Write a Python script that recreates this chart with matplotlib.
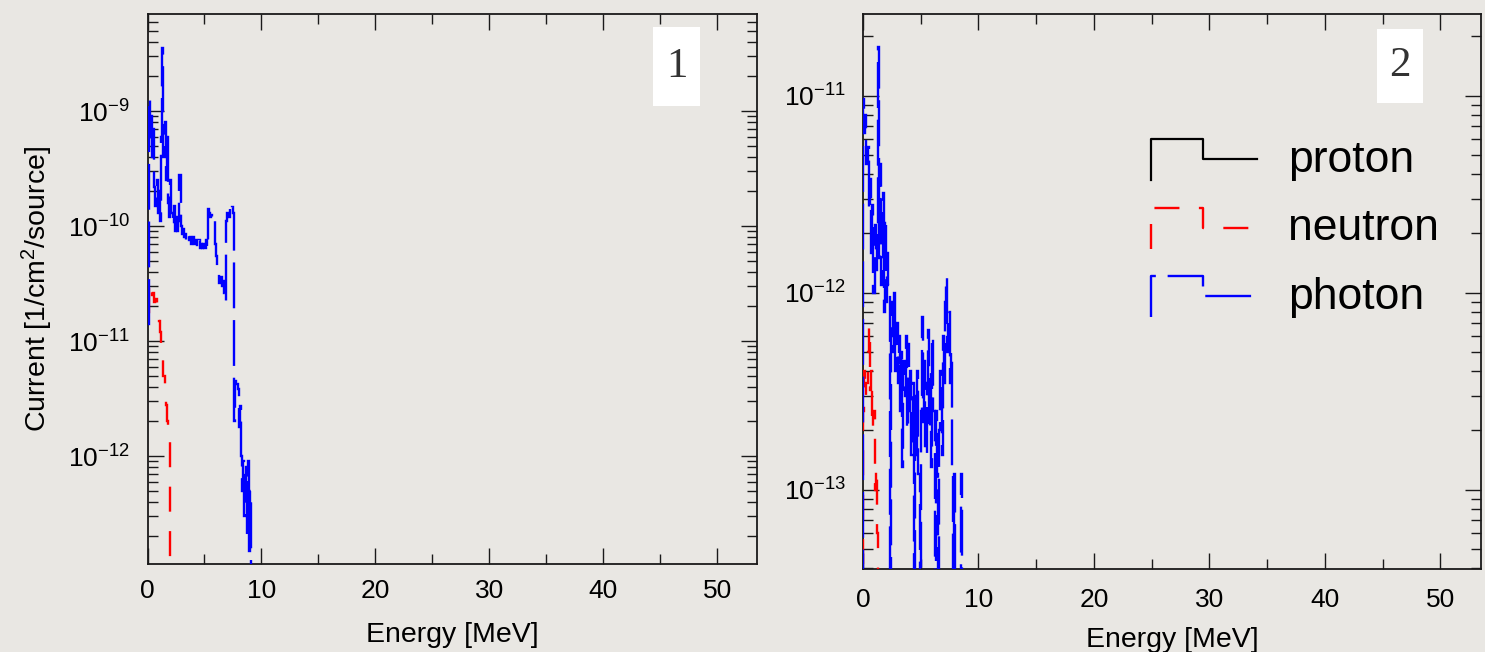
import numpy as np
import matplotlib
matplotlib.use("Agg")
import matplotlib.pyplot as plt
from matplotlib.lines import Line2D
from matplotlib.patches import Rectangle
from matplotlib.legend_handler import HandlerBase
from matplotlib.ticker import MultipleLocator, LogLocator, FixedLocator, NullFormatter

# ---------------------------------------------------------------- data
BIN_WIDTH = 0.1  # MeV, histogram bins start at 0

# panel 1: current per bin [1/cm^2/source]
photon_1 = [
    1.4e-11, 1.3e-9, 6.0e-10, 9.0e-10, 4.0e-10, 7.0e-10, 2.2e-10, 1.5e-10, 2.5e-10, 1.3e-10,
    2.0e-10, 1.1e-10, 6.0e-10, 3.5e-9, 4.0e-10, 8.0e-10, 2.5e-10, 6.0e-10, 1.6e-10, 1.2e-10,
    2.5e-10, 1.3e-10, 1.0e-10, 1.5e-10, 9.0e-11, 1.2e-10, 9.0e-11, 1.1e-10, 2.8e-10, 1.0e-10,
    8.5e-11, 9.5e-11, 8.0e-11, 8.5e-11, 7.5e-11, 8.5e-11, 7.5e-11, 8.0e-11, 7.0e-11, 7.5e-11,
    8.0e-11, 7.0e-11, 7.5e-11, 6.5e-11, 7.0e-11, 7.5e-11, 6.5e-11, 7.0e-11, 6.5e-11, 7.0e-11,
    6.5e-11, 7.5e-11, 6.5e-11, 1.4e-10, 1.3e-10, 1.2e-10, 1.25e-10, 1.1e-10, 1.15e-10, 7.0e-11,
    5.5e-11, 4.5e-11, 4.0e-11, 3.2e-11, 3.6e-11, 3.0e-11, 3.3e-11, 2.6e-11, 2.2e-11, 1.1e-10,
    1.3e-10, 1.2e-10, 1.4e-10, 1.3e-10, 1.45e-10, 1.3e-10, 2.0e-12, 4.5e-12, 4.2e-12, 3.8e-12,
    1.8e-12, 2.7e-12, 1.0e-12, 5.0e-13, 9.0e-13, 3.0e-13, 8.0e-13, 2.0e-13, 9.0e-13, 1.5e-13,
    5.0e-13, 1.0e-14,
]
neutron_1 = [
    1.8e-11, 3.0e-11, 2.8e-11, 3.0e-11, 2.5e-11, 2.6e-11, 2.2e-11, 2.3e-11, 1.9e-11, 1.8e-11,
    1.5e-11, 1.2e-11, 8.5e-12, 7.0e-12, 5.0e-12, 4.2e-12, 2.8e-12, 2.0e-12, 1.6e-12, 1.4e-12,
    1.0e-14,
]

# panel 2
photon_2 = [
    9.6e-12, 6.5e-12, 8.0e-12, 4.5e-12, 5.5e-12, 2.6e-12, 3.8e-12, 1.6e-12, 2.8e-12, 1.0e-12,
    2.2e-12, 1.3e-12, 2.0e-12, 1.76e-11, 1.5e-12, 4.5e-12, 1.1e-12, 3.2e-12, 8.0e-13, 2.4e-12,
    9.0e-13, 1.6e-12, 1.1e-12, 3.0e-14, 6.0e-13, 9.0e-13, 5.0e-13, 1.0e-12, 4.0e-13, 7.0e-13,
    3.5e-13, 6.0e-13, 2.5e-13, 5.0e-13, 1.3e-13, 4.5e-13, 3.0e-13, 6.0e-13, 2.0e-13, 5.5e-13,
    2.5e-13, 4.0e-13, 1.5e-13, 3.5e-13, 3.0e-14, 3.0e-13, 1.5e-13, 4.0e-13, 1.2e-13, 3.0e-14,
    2.5e-13, 7.5e-13, 2.2e-13, 4.5e-13, 1.5e-13, 3.5e-13, 6.5e-13, 2.0e-13, 4.0e-13, 1.3e-13,
    6.0e-13, 2.5e-13, 3.0e-14, 2.5e-13, 1.2e-13, 3.0e-14, 2.0e-13, 4.0e-13, 1.5e-13, 6.0e-13,
    3.5e-13, 9.0e-13, 1.2e-12, 5.0e-13, 8.0e-13, 3.5e-13, 5.0e-13, 1.2e-13, 3.0e-14, 1.2e-13,
    3.0e-14, 3.0e-14, 3.0e-14, 3.0e-14, 3.0e-14, 1.2e-13, 3.0e-14,
]
neutron_2 = [
    2.5e-13, 4.0e-13, 3.0e-13, 3.5e-13, 5.0e-13, 6.8e-13, 3.2e-13, 4.0e-13, 2.0e-13, 2.5e-13,
    1.0e-13, 1.3e-13, 6.0e-14, 2.0e-14,
]

panel_tags = ["1", "2"]
legend_labels = ["proton", "neutron", "photon"]
x_label = "Energy [MeV]"
y_label = "Current [1/cm$^{2}$/source]"
decades_1 = [1e-12, 1e-11, 1e-10, 1e-9]
decades_2 = [1e-13, 1e-12, 1e-11]

# ---------------------------------------------------------------- style
BG = "#e9e7e3"
plt.rcParams.update({
    "font.family": ["Liberation Sans", "DejaVu Sans"],
    "mathtext.fontset": "custom",
    "mathtext.rm": "Liberation Sans",
    "mathtext.it": "Liberation Sans:italic",
    "mathtext.bf": "Liberation Sans:bold",
    "mathtext.default": "regular",
    "lines.scale_dashes": False,
})

styles = {
    "proton": dict(color="black", linewidth=1.6, linestyle="-"),
    "neutron": dict(color="#ff0000", linewidth=1.7, linestyle=(0, (18, 14))),
    "photon": dict(color="#0000ff", linewidth=1.7, linestyle=(0, (33, 8.5))),
}


def edges_for(values):
    return np.arange(len(values) + 1) * BIN_WIDTH


class StepHandler(HandlerBase):
    """Legend key drawn as a small histogram outline."""

    def create_artists(self, legend, orig_handle, xdescent, ydescent,
                       width, height, fontsize, trans):
        x0, y0 = -xdescent, -ydescent
        yc = y0 + 0.28 * fontsize
        top = yc + 0.45 * fontsize
        bot = yc - 0.47 * fontsize
        xm = x0 + 0.49 * width
        line = Line2D([x0, x0, xm, xm, x0 + width], [bot, top, top, yc, yc])
        self.update_prop(line, orig_handle, legend)
        line.set_transform(trans)
        return [line]


W, H = 1485, 652
fig = plt.figure(figsize=(W / 100, H / 100), dpi=100, facecolor=BG)


def px_axes(x0, y0, x1, y1):
    return fig.add_axes([x0 / W, (H - y1) / H, (x1 - x0) / W, (y1 - y0) / H])


ax1 = px_axes(147.5, 14.3, 757.3, 563.7)
ax2 = px_axes(863.0, 14.0, 1480.7, 568.7)

panels = [
    (ax1, photon_1, neutron_1, (10 ** -12.936, 10 ** -8.159), decades_1, None),
    (ax2, photon_2, neutron_2, (10 ** -13.401, 10 ** -10.585), decades_2, 1e-16),
]

for ax, pho, neu, ylim, decades, base in panels:
    ax.set_facecolor("none")
    ax.set_yscale("log")
    ax.stairs(neu, edges_for(neu), baseline=base, zorder=3, **styles["neutron"])
    ax.stairs(pho, edges_for(pho), baseline=base, zorder=3, **styles["photon"])
    ax.set_xlim(0, 53.5)
    ax.set_ylim(*ylim)
    ax.xaxis.set_major_locator(MultipleLocator(10))
    ax.xaxis.set_minor_locator(MultipleLocator(5))
    ax.yaxis.set_major_locator(FixedLocator(decades))
    ax.yaxis.set_minor_locator(LogLocator(base=10, subs=np.arange(2, 10), numticks=20))
    ax.yaxis.set_minor_formatter(NullFormatter())
    ax.tick_params(which="both", direction="in", top=True, right=True,
                   colors="#1a1a1a", labelcolor="black")
    ax.tick_params(which="major", length=11.5, width=1.0, labelsize=19)
    ax.tick_params(which="minor", length=7, width=1.0)
    ax.tick_params(axis="y", which="major", pad=12.5)
    for sp in ax.spines.values():
        sp.set_linewidth(1.3)
        sp.set_color("#1a1a1a")
    ax.set_xlabel(x_label, fontsize=20.5)

ax1.tick_params(axis="x", which="major", pad=11)
ax2.tick_params(axis="x", which="major", pad=14)
ax1.xaxis.labelpad = 14
ax2.xaxis.labelpad = 11
ax1.set_ylabel(y_label, fontsize=20.5)
ax1.yaxis.set_label_coords(-0.152, 0.5)

# legend with histogram-outline keys
handles = [Line2D([], [], **styles[k]) for k in legend_labels]
ax2.legend(handles, legend_labels, handler_map={Line2D: StepHandler()},
           loc="center left", bbox_to_anchor=(0.4663, 0.613),
           frameon=False, fontsize=32, handlelength=2.39, handletextpad=0.7,
           labelspacing=0.62, borderpad=0, borderaxespad=0)

# panel tags in white boxes
tag_boxes = [(653, 27, 700, 106), (1377, 29, 1423, 103)]
for tag, (x0, y0, x1, y1) in zip(panel_tags, tag_boxes):
    fig.patches.append(Rectangle((x0 / W, (H - y1) / H), (x1 - x0) / W, (y1 - y0) / H,
                                 transform=fig.transFigure, facecolor="white",
                                 edgecolor="none", zorder=5))
    fig.text((x0 + x1) / 2 / W, (H - (y0 + y1) / 2) / H, tag, ha="center", va="center",
             fontsize=31, color="#333333", family=["Liberation Serif", "DejaVu Serif"],
             zorder=6)

fig.savefig("out.png", dpi=100, facecolor=BG)
